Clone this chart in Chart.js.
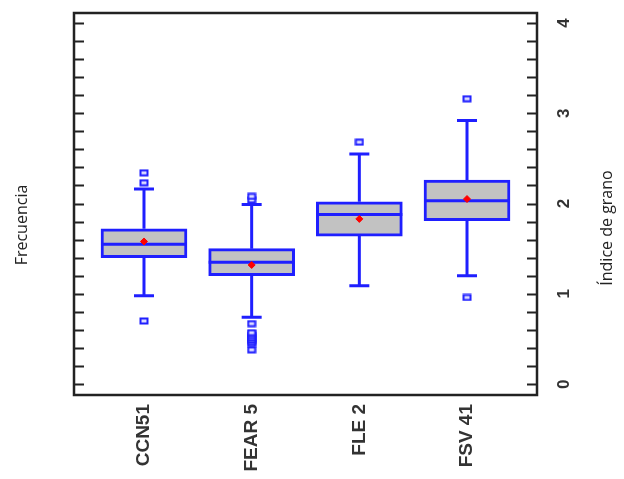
<!DOCTYPE html>
<html>
<head>
<meta charset="utf-8">
<script src="https://cdn.jsdelivr.net/npm/chart.js@4"></script>
<style>
  html, body { margin: 0; padding: 0; background: #fff; }
  #wrap { width: 624px; height: 479px; }
</style>
</head>
<body>
<div id="wrap"><canvas id="chart" width="624" height="479"></canvas></div>
<script>
// datos
const categories = ["CCN51", "FEAR 5", "FLE 2", "FSV 41"];
const whiskerLow = [0.98, 0.74, 1.09, 1.20];
const q1 = [1.40, 1.20, 1.64, 1.81];
const median = [1.55, 1.35, 1.88, 2.03];
const q3 = [1.72, 1.50, 2.02, 2.26];
const whiskerHigh = [2.16, 1.99, 2.55, 2.92];
const means = [1.58, 1.32, 1.83, 2.05];
const outliers = [
  [0.70, 2.23, 2.34],
  [0.38, 0.45, 0.47, 0.49, 0.51, 0.53, 0.55, 0.57, 0.67, 2.04, 2.08],
  [2.68],
  [0.96, 3.16]
];
const yTicks = [0, 1, 2, 3, 4];

const BLUE = "#1f1fff";

// marcador de valores atipicos (rectangulo hueco)
const outlierIcon = document.createElement("canvas");
outlierIcon.width = 10;
outlierIcon.height = 8;
(function () {
  const c = outlierIcon.getContext("2d");
  c.fillStyle = "#dcdcff";
  c.fillRect(1, 1, 8, 6);
  c.strokeStyle = BLUE;
  c.lineWidth = 2;
  c.strokeRect(1.5, 1.5, 7, 5);
})();

// bigotes, topes y mediana
const boxParts = {
  id: "boxParts",
  afterDatasetDraw(chart, args) {
    if (args.index !== 0) return;
    const ctx = chart.ctx;
    const xs = chart.scales.x, ys = chart.scales.y;
    const meta = chart.getDatasetMeta(0);
    ctx.save();
    ctx.strokeStyle = BLUE;
    ctx.lineWidth = 3;
    categories.forEach((c, i) => {
      const x = xs.getPixelForValue(i + 1);
      const bar = meta.data[i];
      const half = bar.width / 2;
      const yq1 = ys.getPixelForValue(q1[i]);
      const yq3 = ys.getPixelForValue(q3[i]);
      const ylo = ys.getPixelForValue(whiskerLow[i]);
      const yhi = ys.getPixelForValue(whiskerHigh[i]);
      const ymed = ys.getPixelForValue(median[i]);
      ctx.beginPath();
      ctx.moveTo(x, yq3); ctx.lineTo(x, yhi);
      ctx.moveTo(x - 10, yhi); ctx.lineTo(x + 10, yhi);
      ctx.moveTo(x, yq1); ctx.lineTo(x, ylo);
      ctx.moveTo(x - 10, ylo); ctx.lineTo(x + 10, ylo);
      ctx.moveTo(x - half, ymed); ctx.lineTo(x + half, ymed);
      ctx.stroke();
    });
    ctx.restore();
  }
};

// marco, marcas del eje y textos
const frame = {
  id: "frame",
  afterDraw(chart) {
    const ctx = chart.ctx;
    const a = chart.chartArea;
    const ys = chart.scales.y;
    ctx.save();
    ctx.strokeStyle = "#222";
    ctx.lineWidth = 2.5;
    ctx.strokeRect(a.left, a.top, a.right - a.left, a.bottom - a.top);
    ctx.lineWidth = 2;
    for (let k = 0; k <= 20; k++) {
      const y = Math.round(ys.getPixelForValue(k / 5)) + 0.5;
      ctx.beginPath();
      ctx.moveTo(a.left, y); ctx.lineTo(a.left + 10, y);
      ctx.moveTo(a.right - 10, y); ctx.lineTo(a.right, y);
      ctx.stroke();
    }
    ctx.fillStyle = "#333";
    ctx.font = "bold 17px 'Liberation Sans', Arial, sans-serif";
    ctx.textAlign = "center";
    ctx.textBaseline = "middle";
    yTicks.forEach(v => {
      const y = ys.getPixelForValue(v);
      ctx.save();
      ctx.translate(a.right + 27, y);
      ctx.rotate(-Math.PI / 2);
      ctx.fillText(String(v), 0, 0);
      ctx.restore();
    });
    ctx.fillStyle = "#222";
    ctx.font = "16px 'Open Sans', sans-serif";
    ctx.save();
    ctx.translate(22, 225);
    ctx.rotate(-Math.PI / 2);
    ctx.fillText("Frecuencia", 0, 0);
    ctx.restore();
    ctx.save();
    ctx.translate(607, 228);
    ctx.rotate(-Math.PI / 2);
    ctx.fillText("Índice de grano", 0, 0);
    ctx.restore();
    ctx.restore();
  }
};

const boxData = categories.map((c, i) => ({ x: i + 1, y: [q1[i], q3[i]] }));
const outlierData = [];
outliers.forEach((list, i) => list.forEach(v => outlierData.push({ x: i + 1, y: v })));
const meanData = means.map((m, i) => ({ x: i + 1, y: m }));

new Chart(document.getElementById("chart"), {
  type: "bar",
  data: {
    datasets: [
      {
        data: boxData,
        backgroundColor: "#c2c2c2",
        borderColor: BLUE,
        borderWidth: 3,
        borderSkipped: false,
        barThickness: 86,
        order: 3
      },
      {
        type: "scatter",
        data: outlierData,
        pointStyle: outlierIcon,
        order: 1
      },
      {
        type: "scatter",
        data: meanData,
        pointStyle: "rectRot",
        radius: 3.5,
        backgroundColor: "#ff0000",
        borderColor: "#ff0000",
        borderWidth: 1,
        order: 0
      }
    ]
  },
  options: {
    responsive: false,
    animation: false,
    layout: { padding: { left: 74, right: 87, top: 13, bottom: 0 } },
    plugins: { legend: { display: false }, tooltip: { enabled: false } },
    scales: {
      x: {
        type: "linear",
        min: 0.35,
        max: 4.65,
        offset: false,
        grid: { display: false, drawTicks: false, offset: false },
        border: { display: false },
        afterBuildTicks: s => { s.ticks = categories.map((c, i) => ({ value: i + 1 })); },
        afterFit: s => { s.height = 84; },
        ticks: {
          autoSkip: false,
          minRotation: 90,
          maxRotation: 90,
          padding: 9,
          color: "#333",
          font: { family: "'Liberation Sans', Arial, sans-serif", size: 19, weight: "bold" },
          callback: v => categories[v - 1]
        }
      },
      y: {
        type: "linear",
        min: -0.12,
        max: 4.11,
        display: false
      }
    }
  },
  plugins: [boxParts, frame]
});
</script>
</body>
</html>
